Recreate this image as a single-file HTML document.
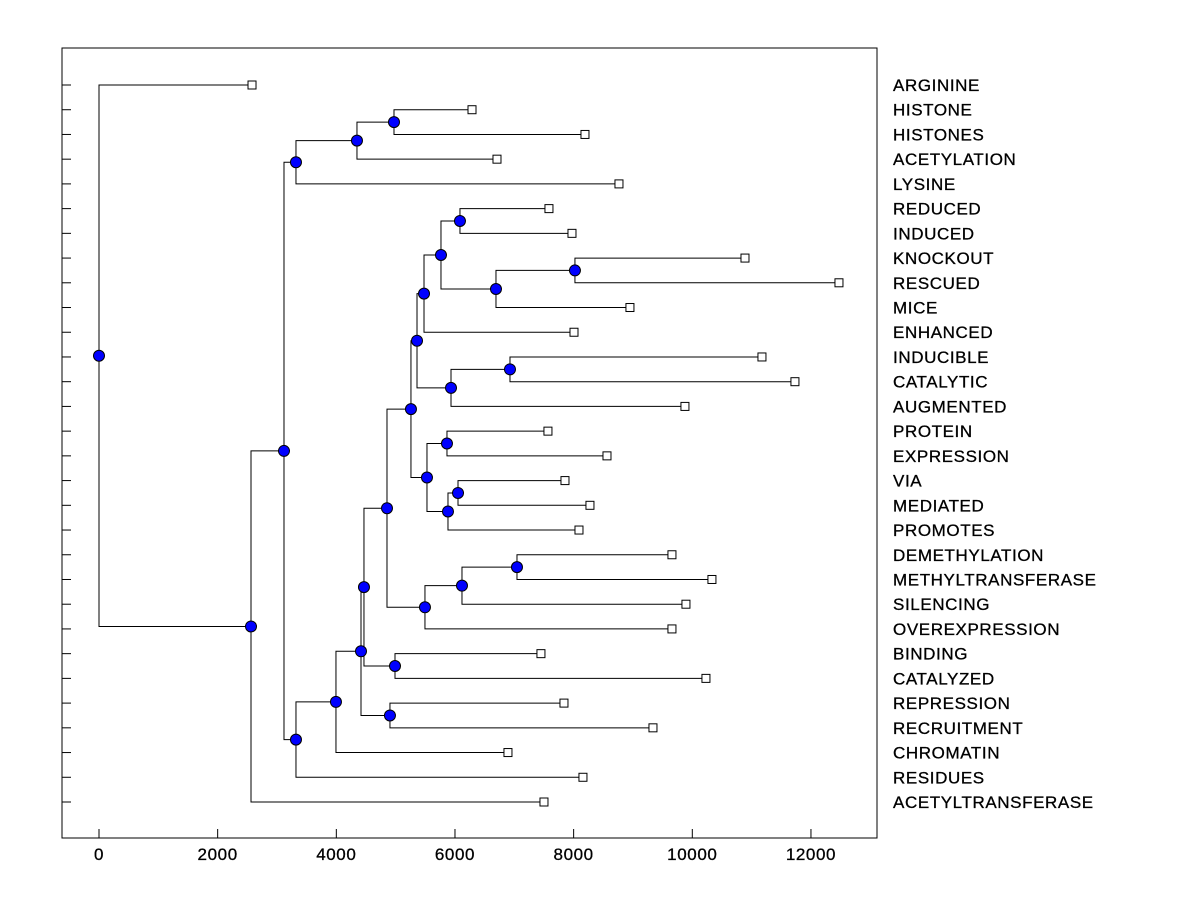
<!DOCTYPE html>
<html><head><meta charset="utf-8"><style>
html,body{margin:0;padding:0;background:#fff;}
svg text{font-family:"Liberation Sans",Arial,sans-serif;font-size:17px;letter-spacing:0.6px;fill:#000;stroke:#000;stroke-width:0.3px;}
</style></head><body>
<svg id="chart" width="1200" height="900" xmlns="http://www.w3.org/2000/svg">
<rect x="0" y="0" width="1200" height="900" fill="#fff"/>
<rect x="62" y="48" width="815" height="790" fill="none" stroke="#000" stroke-width="1"/>
<g id="g"></g>
</svg>
<script>
const labels = ["ARGININE","HISTONE","HISTONES","ACETYLATION","LYSINE","REDUCED","INDUCED","KNOCKOUT","RESCUED","MICE","ENHANCED","INDUCIBLE","CATALYTIC","AUGMENTED","PROTEIN","EXPRESSION","VIA","MEDIATED","PROMOTES","DEMETHYLATION","METHYLTRANSFERASE","SILENCING","OVEREXPRESSION","BINDING","CATALYZED","REPRESSION","RECRUITMENT","CHROMATIN","RESIDUES","ACETYLTRANSFERASE"];
const leafHeights = [2579,6287,8191,6708,8764,7584,7972,10888,12472,8949,8006,11174,11730,9876,7567,8562,7854,8275,8090,9657,10331,9893,9657,7449,10230,7837,9337,6893,8157,7500];
const mergeLeft =  [1,30,31,5,7,34,33,36,11,38,37,14,16,42,41,40,19,46,47,45,23,49,25,51,53,54,32,56,0];
const mergeRight = [2,3,4,6,8,9,35,10,12,13,39,15,17,18,43,44,20,21,22,48,24,50,26,52,27,28,55,29,57];
const mergeHeights = [4972,4348,3320,6084,8022,6691,5764,5478,6927,5933,5360,5865,6051,5882,5528,5258,7045,6118,5494,4854,4989,4466,4904,4416,3994,3320,3118,2562,0];
const xTicks = [0,2000,4000,6000,8000,10000,12000];

const NS="http://www.w3.org/2000/svg";
const g=document.getElementById('g');
const xScale=v=>99+v*0.05933;
const yTop=85, yStep=(802-85)/(labels.length-1);
const yScale=i=>yTop+i*yStep;
function mk(t,a){const e=document.createElementNS(NS,t);for(const k in a)e.setAttribute(k,a[k]);g.appendChild(e);return e;}

xTicks.forEach(t=>{
  const x=xScale(t);
  const l=mk('line',{x1:x,y1:838,x2:x,y2:829,stroke:'#000'});
  
  
  const tx=mk('text',{x:x,y:860,'text-anchor':'middle'});tx.textContent=t;
  
  
});
labels.forEach((lab,i)=>{
  const y=yScale(i);
  const l=mk('line',{x1:62,y1:y,x2:71,y2:y,stroke:'#000'});
  
  
  const tx=mk('text',{x:893,y:y+6});tx.textContent=lab;
  
  
});

const nx=[],ny=[];
labels.forEach((l,i)=>{nx[i]=xScale(leafHeights[i]);ny[i]=yScale(i);});
const n0=labels.length;
mergeHeights.forEach((h,k)=>{
  const id=n0+k,a=mergeLeft[k],b=mergeRight[k];
  nx[id]=xScale(h);ny[id]=(ny[a]+ny[b])/2;
});
mergeHeights.forEach((h,k)=>{
  const id=n0+k,a=mergeLeft[k],b=mergeRight[k];
  const p=mk('path',{d:`M${nx[a]},${ny[a]}H${nx[id]}V${ny[b]}H${nx[b]}`,fill:'none',stroke:'#000','stroke-width':1});
  
  
});
labels.forEach((l,i)=>{
  const r=mk('rect',{x:nx[i]-4,y:ny[i]-4,width:8,height:8,fill:'#fff',stroke:'#000'});
  
  
});
mergeHeights.forEach((h,k)=>{
  const id=n0+k;
  const c=mk('circle',{cx:nx[id],cy:ny[id],r:5.5,fill:'#0000ff',stroke:'#000','stroke-width':1});
  
  
});
</script>
</body></html>
